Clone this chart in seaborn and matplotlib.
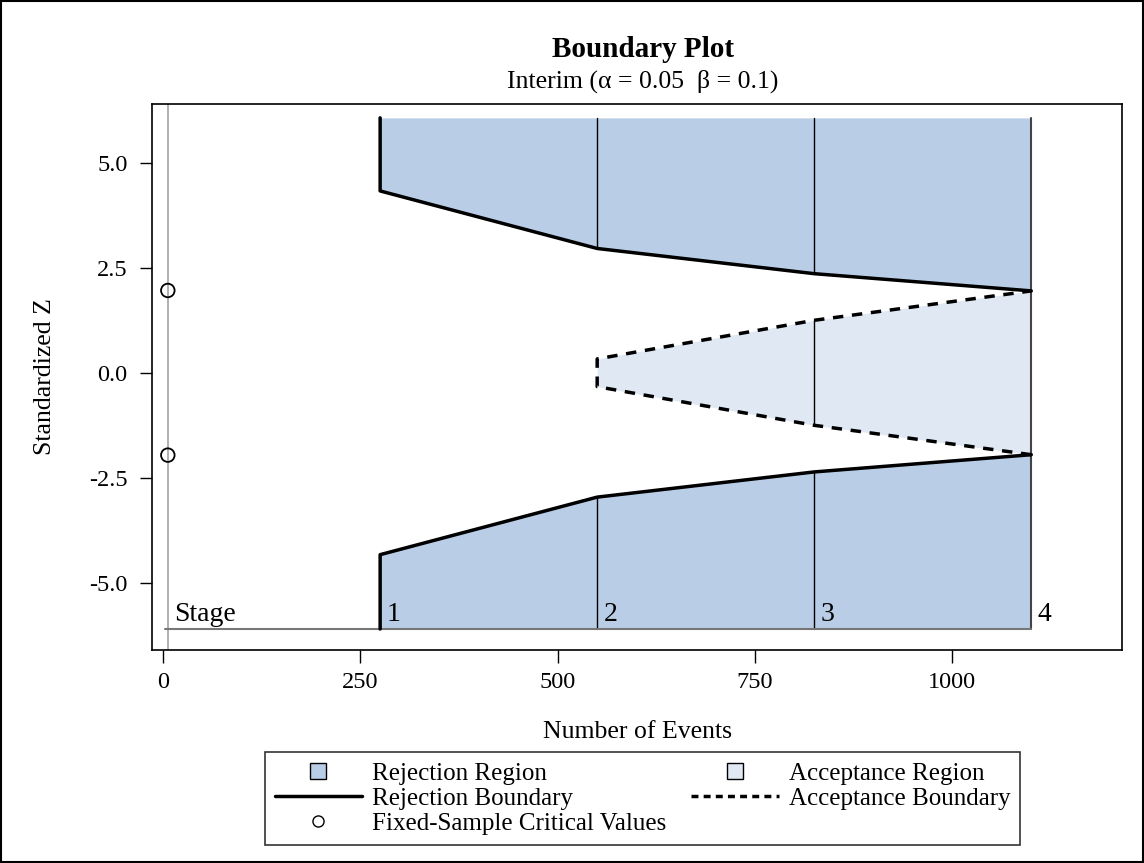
import numpy as np
import matplotlib
matplotlib.use("Agg")
import matplotlib.pyplot as plt
from matplotlib.lines import Line2D
from matplotlib.patches import Rectangle
import seaborn as sns

# data
stages = [1, 2, 3, 4]
events = [275, 550, 825, 1100]
rej_upper = [4.33, 2.96, 2.36, 1.95]
rej_lower = [-4.33, -2.96, -2.36, -1.95]
acc_events = [550, 825, 1100]
acc_upper = [0.33, 1.25, 1.95]
acc_lower = [-0.33, -1.25, -1.95]
fixed_x = [6, 6]
fixed_z = [1.96, -1.96]
z_top = 6.07
z_base = -6.1

rej_col = "#b9cee6"
acc_col = "#dfe8f3"

sns.set_style("white")
plt.rcParams["font.family"] = ["Liberation Serif", "DejaVu Serif"]
plt.rcParams["text.color"] = "black"
plt.rcParams["axes.labelcolor"] = "black"
plt.rcParams["xtick.color"] = "black"
plt.rcParams["ytick.color"] = "black"

fig = plt.figure(figsize=(11.44, 8.63), dpi=100)
ax = fig.add_axes([0.1329, 0.2468, 0.8479, 0.6327])

# regions
ax.fill_between(events, rej_upper, z_top, color=rej_col, lw=0)
ax.fill_between(events, rej_lower, z_base, color=rej_col, lw=0)
ax.fill_between(acc_events, acc_lower, acc_upper, color=acc_col, lw=0)

# thin stage separators
for e, u, l in zip(events[1:3], rej_upper[1:3], rej_lower[1:3]):
    ax.plot([e, e], [u, z_top], color="black", lw=1)
    ax.plot([e, e], [l, z_base], color="black", lw=1)
ax.plot([acc_events[1]] * 2, [acc_lower[1], acc_upper[1]], color="black", lw=1)
ax.plot([events[-1]] * 2, [z_base, z_top], color="#444444", lw=1.5)

# stage axis
ax.axvline(fixed_x[0], color="#aaaaaa", lw=1.3, zorder=1)
ax.plot([3, events[-1]], [z_base, z_base], color="#777777", lw=1.5)
ax.text(14, z_base + 0.05, "Stage", fontsize=20, va="bottom", ha="left")
for e, s in zip(events, stages):
    ax.text(e + 8, z_base + 0.05, str(s), fontsize=20, va="bottom", ha="left")

# boundaries
sns.lineplot(x=[events[0]] + events, y=[z_top] + rej_upper, sort=False,
             estimator=None, color="black", lw=2.5, ax=ax)
sns.lineplot(x=[events[0]] + events, y=[z_base] + rej_lower, sort=False,
             estimator=None, color="black", lw=2.5, ax=ax)
sns.lineplot(x=acc_events[::-1] + acc_events, y=acc_lower[::-1] + acc_upper,
             sort=False, estimator=None, color="black", lw=2.5,
             linestyle=(0, (3, 2.5)), ax=ax)
sns.scatterplot(x=fixed_x, y=fixed_z, s=95, facecolor="none",
                edgecolor="black", linewidth=1.3, zorder=5, ax=ax)

ax.set_xlim(-14, 1215)
ax.set_ylim(-6.6, 6.4)
ax.set_xticks([0, 250, 500, 750, 1000])
ax.set_yticks([5.0, 2.5, 0.0, -2.5, -5.0])
ax.set_yticklabels(["5.0", "2.5", "0.0", "-2.5", "-5.0"])
ax.tick_params(axis="both", labelsize=17.5, direction="out", length=9,
               width=1, color="black", left=True, bottom=True)
ax.tick_params(axis="y", pad=8.5)
ax.tick_params(axis="x", pad=7)
for sp in ax.spines.values():
    sp.set_color("black")
    sp.set_linewidth(1.2)
ax.set_xlabel("Number of Events", fontsize=18.5, labelpad=20)
ax.set_ylabel("Standardized Z", fontsize=18.5, labelpad=24)

fig.text(0.562, 0.934, "Boundary Plot", ha="center", va="baseline",
         fontsize=21, weight="bold")
fig.text(0.562, 0.898, "Interim (\u03b1 = 0.05  \u03b2 = 0.1)", ha="center",
         va="baseline", fontsize=18.5)

handles = [
    Line2D([], [], marker="s", ms=12, mfc=rej_col, mec="black", ls="none"),
    Line2D([], [], color="black", lw=2.5),
    Line2D([], [], marker="o", ms=8, mfc="none", mec="black", ls="none"),
    Line2D([], [], marker="s", ms=12, mfc=acc_col, mec="black", ls="none"),
    Line2D([], [], color="black", lw=2.5, ls=(0, (2, 1.5))),
]
labels = ["Rejection Region", "Rejection Boundary", "Fixed-Sample Critical Values",
          "Acceptance Region", "Acceptance Boundary"]
leg = fig.legend(handles, labels, loc="center", bbox_to_anchor=(0.5616, 0.075),
                 ncol=2, fontsize=18, frameon=True, fancybox=False,
                 edgecolor="black", handlelength=3.5, columnspacing=1.0,
                 labelspacing=0.1, borderpad=0.4, handletextpad=0.4)
leg.get_frame().set_linewidth(1.2)

fig.patches.append(Rectangle((0.001, 0.001), 0.998, 0.998, transform=fig.transFigure,
                             fill=False, edgecolor="black", lw=1.5))

fig.savefig("out.png", dpi=100)
